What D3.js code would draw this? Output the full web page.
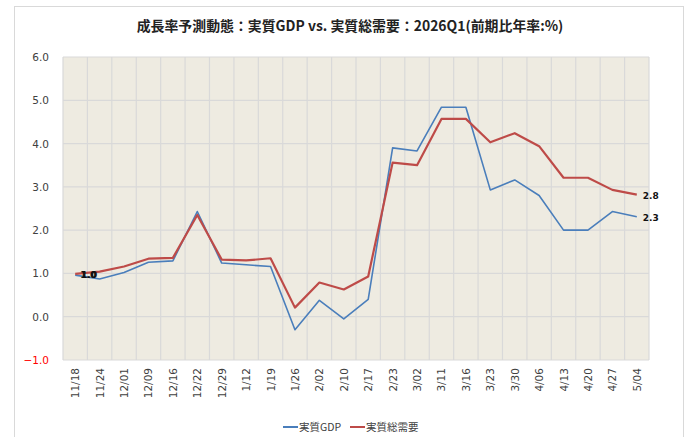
<!DOCTYPE html>
<html><head><meta charset="utf-8">
<script src="https://cdn.jsdelivr.net/npm/d3@7"></script>
<style>body{margin:0;background:#fff}svg{display:block}</style>
</head><body><svg id="c" width="690" height="437"></svg>
<script>
const categories = ["11/18","11/24","12/01","12/09","12/16","12/22","12/29","1/12","1/19","1/26","2/02","2/10","2/17","2/23","3/02","3/11","3/16","3/23","3/30","4/06","4/13","4/20","4/27","5/04"];
const gdp = [0.96,0.87,1.02,1.26,1.29,2.43,1.24,1.20,1.16,-0.30,0.38,-0.05,0.40,3.90,3.83,4.84,4.84,2.93,3.16,2.80,2.00,2.00,2.43,2.31];
const demand = [0.99,1.04,1.16,1.34,1.36,2.35,1.32,1.30,1.35,0.21,0.79,0.63,0.93,3.56,3.50,4.57,4.57,4.03,4.24,3.94,3.21,3.21,2.93,2.82];
const yTicks = [-1,0,1,2,3,4,5,6];
const seriesNames = ["実質GDP","実質総需要"];
const colors = ["#4a7ebb","#be4b48"];
const title = "成長率予測動態：実質GDP vs. 実質総需要：2026Q1(前期比年率:%)";

const svg = d3.select("#c");
const font = "'Noto Sans CJK JP', 'Noto Sans', sans-serif";
const L = 63, R = 649, T = 57, B = 360;

svg.append("rect").attr("x",14.5).attr("y",6.5).attr("width",669).attr("height",440)
  .attr("fill","#fff").attr("stroke","#d9d9d9");

svg.append("text").attr("x",350).attr("y",31).attr("text-anchor","middle")
  .attr("font-family",font).attr("font-weight","bold").attr("font-size",13.9).attr("fill","#222")
  .text(title);

const x = d3.scaleBand().domain(categories).range([L,R]);
const y = d3.scaleLinear().domain([-1,6]).range([B,T]);

svg.append("rect").attr("x",L).attr("y",T).attr("width",R-L).attr("height",B-T).attr("fill","#eeebe1");

const g = svg.append("g");
g.selectAll("line.h").data(yTicks).enter().append("line")
  .attr("x1",L).attr("x2",R).attr("y1",d=>y(d)).attr("y2",d=>y(d))
  .attr("stroke","#d9d9d9").attr("stroke-width",1.2);
const bounds = categories.map(c=>x(c)).concat([R]);
g.selectAll("line.v").data(bounds).enter().append("line")
  .attr("x1",d=>d).attr("x2",d=>d).attr("y1",T).attr("y2",B)
  .attr("stroke","#d9d9d9").attr("stroke-width",1.2);

svg.append("g").selectAll("text").data(yTicks).enter().append("text")
  .attr("x",49).attr("y",d=>y(d)+4).attr("text-anchor","end")
  .attr("font-family","'DejaVu Sans', sans-serif").attr("font-size",10.5)
  .attr("fill",d=>d<0?"#ff0000":"#404040")
  .text(d=>d3.format(".1f")(d));

svg.append("g").selectAll("text").data(categories).enter().append("text")
  .attr("transform",d=>`translate(${x(d)+x.bandwidth()/2+4},${B+8}) rotate(-90)`)
  .attr("text-anchor","end")
  .attr("font-family","'DejaVu Sans', sans-serif").attr("font-size",10.5).attr("fill","#404040")
  .text(d=>d);

const cx = c => x(c)+x.bandwidth()/2;
const line = d3.line().x((d,i)=>cx(categories[i])).y(d=>y(d));
[gdp,demand].forEach((s,k)=>{
  svg.append("path").datum(s).attr("d",line).attr("fill","none")
    .attr("stroke",colors[k]).attr("stroke-width",k===0?1.6:2.2).attr("stroke-linejoin","round");
});

const lab = (xx,yy,t)=>svg.append("text").attr("x",xx).attr("y",yy)
  .attr("font-family","'DejaVu Sans', sans-serif").attr("font-weight","bold").attr("font-size",9)
  .attr("fill","#111").text(t);
const last = categories.length-1;
lab(cx(categories[0])+5, y(gdp[0])+3, d3.format(".1f")(gdp[0]));
lab(cx(categories[0])+6, y(demand[0])+4, d3.format(".1f")(demand[0]));
lab(cx(categories[last])+6, y(demand[last])+4, d3.format(".1f")(demand[last]));
lab(cx(categories[last])+6, y(gdp[last])+4, d3.format(".1f")(gdp[last]));

const lg = svg.append("g");
const lx = [283, 350];
seriesNames.forEach((n,k)=>{
  lg.append("line").attr("x1",lx[k]).attr("x2",lx[k]+15).attr("y1",427).attr("y2",427)
    .attr("stroke",colors[k]).attr("stroke-width",2);
  lg.append("text").attr("x",lx[k]+16).attr("y",431)
    .attr("font-family",font).attr("font-size",10.5).attr("fill","#404040").text(n);
});
</script></body></html>
